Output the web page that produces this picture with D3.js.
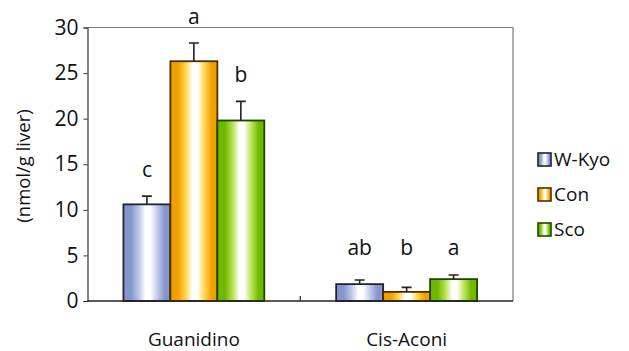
<!DOCTYPE html>
<html>
<head>
<meta charset="utf-8">
<script src="https://cdn.jsdelivr.net/npm/d3@7"></script>
<style>
  html, body { margin: 0; padding: 0; background: #fff; }
  svg { display: block; font-family: "Open Sans", "Noto Sans", sans-serif; }
</style>
</head>
<body>
<svg id="chart" width="629" height="351"></svg>
<script>
// Liver metabolite levels by diet group
const categories = ["Guanidino", "Cis-Aconi"];
const groups = ["W-Kyo", "Con", "Sco"];
const wKyo = [10.6, 1.85];
const con = [26.3, 1.0];
const sco = [19.8, 2.4];
const wKyoErr = [0.9, 0.45];
const conErr = [2.0, 0.5];
const scoErr = [2.1, 0.45];
const wKyoSig = ["c", "ab"];
const conSig = ["a", "b"];
const scoSig = ["b", "a"];
const yTicks = [0, 5, 10, 15, 20, 25, 30];
const yTitle = "(nmol/g liver)";

const seriesValues = [wKyo, con, sco];
const seriesErrs = [wKyoErr, conErr, scoErr];
const seriesSigs = [wKyoSig, conSig, scoSig];

const palette = {
  "W-Kyo": { edge: "#8596cc", mid: "#b9c4e6", stroke: "#1f2233" },
  "Con":   { edge: "#f0a000", mid: "#ffd24a", stroke: "#4a3000" },
  "Sco":   { edge: "#6fb800", mid: "#b4e04a", stroke: "#1d4400" }
};

const svg = d3.select("#chart");
const plotL = 87.5, plotR = 513, plotT = 27.5, plotB = 301;

const x = d3.scaleBand().domain(categories).range([plotL, plotR]).paddingInner(0).paddingOuter(0);
const xInner = d3.scaleBand().domain(groups).range([0, x.bandwidth()]).paddingInner(0).paddingOuter(0.765);
const y = d3.scaleLinear().domain([0, 30]).range([plotB, plotT]);

// gradients: edge -> white centre -> edge
const defs = svg.append("defs");
groups.forEach((g, i) => {
  const c = palette[g];
  const grad = defs.append("linearGradient")
    .attr("id", "grad" + i).attr("x1", "0%").attr("x2", "100%").attr("y1", "0%").attr("y2", "0%");
  [[0, c.edge], [0.16, c.edge], [0.32, c.mid], [0.47, "#ffffff"], [0.57, "#ffffff"], [0.74, c.mid], [0.88, c.edge], [1, c.edge]]
    .forEach(([o, col]) => grad.append("stop").attr("offset", o).attr("stop-color", col));
});

// plot frame
svg.append("path")
  .attr("d", `M${plotL},${plotT}H${plotR}V${plotB}`)
  .attr("fill", "none").attr("stroke", "#7a7a7a").attr("stroke-width", 1.2);

// build rows
const rows = [];
categories.forEach((cat, ci) => {
  groups.forEach((g, gi) => {
    rows.push({ cat, g, gi, v: seriesValues[gi][ci], e: seriesErrs[gi][ci], sig: seriesSigs[gi][ci] });
  });
});

// bars
svg.append("g").selectAll("rect").data(rows).join("rect")
  .attr("x", d => x(d.cat) + xInner(d.g))
  .attr("y", d => y(d.v))
  .attr("width", xInner.bandwidth())
  .attr("height", d => y(0) - y(d.v))
  .attr("fill", d => `url(#grad${d.gi})`)
  .attr("stroke", d => palette[d.g].stroke)
  .attr("stroke-width", 1.8);

// error bars
const eb = svg.append("g").attr("stroke", "#222").attr("stroke-width", 1.6).attr("fill", "none");
rows.forEach(d => {
  const cx = x(d.cat) + xInner(d.g) + xInner.bandwidth() / 2;
  eb.append("path").attr("d", `M${cx},${y(d.v)}V${y(d.v + d.e)}M${cx - 5},${y(d.v + d.e)}H${cx + 5}`);
});

// significance letters
svg.append("g").selectAll("text").data(rows).join("text")
  .attr("x", d => x(d.cat) + xInner(d.g) + xInner.bandwidth() / 2)
  .attr("y", d => Math.min(y(d.v + d.e), y(3)) - 19)
  .attr("text-anchor", "middle")
  .attr("font-size", 21)
  .attr("fill", "#111")
  .text(d => d.sig);

// y axis
const yAxis = svg.append("g").attr("transform", `translate(${plotL},0)`)
  .call(d3.axisLeft(y).tickValues(yTicks).tickSize(4).tickPadding(5));
yAxis.select(".domain").attr("stroke", "#333").attr("stroke-width", 1.2);
yAxis.selectAll(".tick line").attr("stroke", "#333");
yAxis.selectAll(".tick text").attr("font-size", 21).attr("fill", "#111").attr("font-family", "Open Sans, sans-serif");

// x axis baseline and divider tick
svg.append("path").attr("d", `M${plotL},${plotB}H${plotR}`).attr("stroke", "#222").attr("stroke-width", 1.6);
const divX = x(categories[1]);
svg.append("path").attr("d", `M${divX},${plotB}V${plotB - 5}`).attr("stroke", "#222").attr("stroke-width", 1.2);

// category labels
svg.append("g").selectAll("text").data(categories).join("text")
  .attr("x", d => x(d) + x.bandwidth() / 2)
  .attr("y", 346)
  .attr("text-anchor", "middle")
  .attr("font-size", 19)
  .attr("fill", "#111")
  .text(d => d);

// y title
svg.append("text")
  .attr("transform", `translate(30,166) rotate(-90)`)
  .attr("text-anchor", "middle")
  .attr("font-size", 18.5)
  .attr("fill", "#111")
  .text(yTitle);

// legend
const legend = svg.append("g").attr("transform", "translate(538,153)");
groups.forEach((g, i) => {
  const row = legend.append("g").attr("transform", `translate(0,${i * 35})`);
  row.append("rect").attr("width", 13).attr("height", 13)
    .attr("fill", `url(#grad${i})`).attr("stroke", palette[g].stroke).attr("stroke-width", 1.6);
  row.append("text").attr("x", 16).attr("y", 13).attr("font-size", 19).attr("fill", "#111").text(g);
});
</script>
</body>
</html>
